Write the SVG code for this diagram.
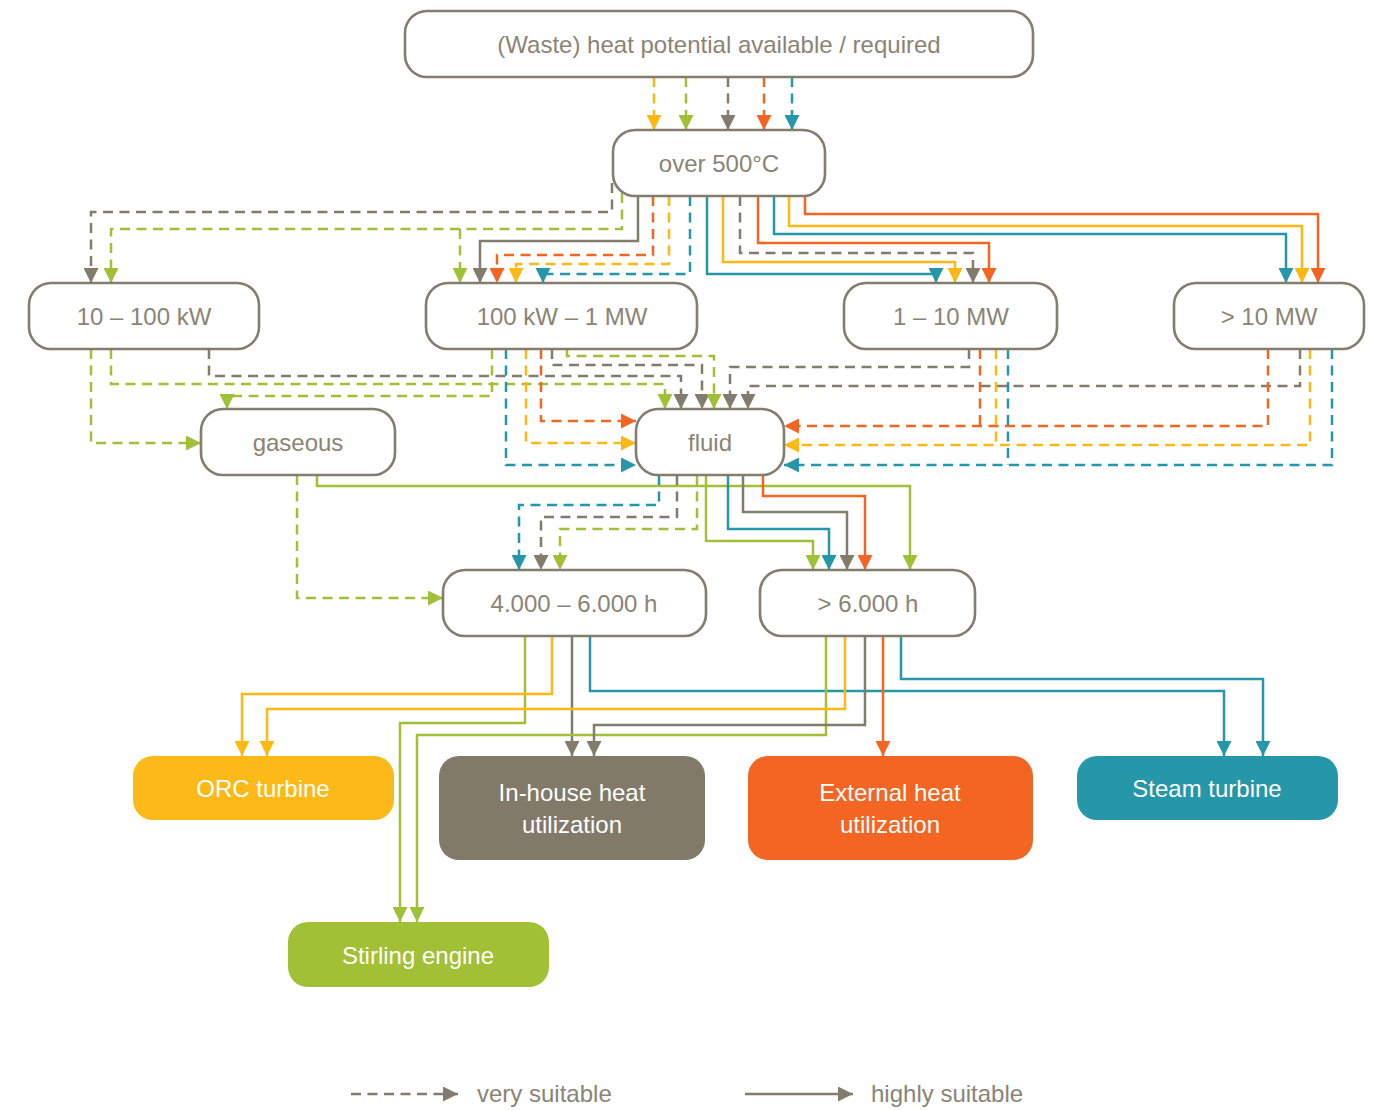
<svg xmlns="http://www.w3.org/2000/svg" width="1382" height="1110" viewBox="0 0 1382 1110">
<style>
.n rect{fill:#fff;stroke:#847D6E;stroke-width:2.6}
.t{font-family:"Liberation Sans",Arial,sans-serif;font-size:24px;fill:#8A8475;text-anchor:middle}
.w{font-family:"Liberation Sans",Arial,sans-serif;font-size:24px;fill:#fff;text-anchor:middle}
.c path{fill:none;stroke-width:2.5}
.d{stroke-dasharray:10 6.5}
.Y{stroke:#FDB913}.G{stroke:#A2C037}.K{stroke:#837C6C}.R{stroke:#F26522}.T{stroke:#2697A9}
</style>
<defs>
<marker id="mY" markerUnits="userSpaceOnUse" markerWidth="15" markerHeight="15" refX="15" refY="7.5" orient="auto"><path d="M0,0 L15,7.5 L0,15 z" fill="#FDB913"/></marker>
<marker id="mG" markerUnits="userSpaceOnUse" markerWidth="15" markerHeight="15" refX="15" refY="7.5" orient="auto"><path d="M0,0 L15,7.5 L0,15 z" fill="#A2C037"/></marker>
<marker id="mK" markerUnits="userSpaceOnUse" markerWidth="15" markerHeight="15" refX="15" refY="7.5" orient="auto"><path d="M0,0 L15,7.5 L0,15 z" fill="#837C6C"/></marker>
<marker id="mR" markerUnits="userSpaceOnUse" markerWidth="15" markerHeight="15" refX="15" refY="7.5" orient="auto"><path d="M0,0 L15,7.5 L0,15 z" fill="#F26522"/></marker>
<marker id="mT" markerUnits="userSpaceOnUse" markerWidth="15" markerHeight="15" refX="15" refY="7.5" orient="auto"><path d="M0,0 L15,7.5 L0,15 z" fill="#2697A9"/></marker>
</defs>
<rect width="1382" height="1110" fill="#fff"/>
<g id="connectors" class="c">
<path class="Y d" marker-end="url(#mY)" d="M654,77 V130"/>
<path class="G d" marker-end="url(#mG)" d="M686,77 V130"/>
<path class="K d" marker-end="url(#mK)" d="M728,77 V130"/>
<path class="R d" marker-end="url(#mR)" d="M764,77 V130"/>
<path class="T d" marker-end="url(#mT)" d="M792,77 V130"/>
<path class="K d" marker-end="url(#mK)" d="M612,183 V212 H91 V283"/>
<path class="G d" marker-end="url(#mG)" d="M622,193 V229 H111 V283"/>
<path class="G d" marker-end="url(#mG)" d="M460,229 V283"/>
<path class="K" marker-end="url(#mK)" d="M638,196 V241 H480 V283"/>
<path class="R d" marker-end="url(#mR)" d="M653,196 V255 H497 V283"/>
<path class="Y d" marker-end="url(#mY)" d="M669,196 V264 H516 V283"/>
<path class="T d" marker-end="url(#mT)" d="M690,196 V274 H543 V283"/>
<path class="T" marker-end="url(#mT)" d="M707,196 V274 H936 V283"/>
<path class="Y" marker-end="url(#mY)" d="M723,196 V262 H955 V283"/>
<path class="K d" marker-end="url(#mK)" d="M740,196 V253 H973 V283"/>
<path class="R" marker-end="url(#mR)" d="M758,196 V243 H989 V283"/>
<path class="T" marker-end="url(#mT)" d="M774,196 V234 H1286 V283"/>
<path class="Y" marker-end="url(#mY)" d="M789,196 V226 H1302 V283"/>
<path class="R" marker-end="url(#mR)" d="M805,196 V214 H1318 V283"/>
<path class="G d" marker-end="url(#mG)" d="M91,349 V443 H201"/>
<path class="G d" marker-end="url(#mG)" d="M111,349 V384 H665 V409"/>
<path class="K d" marker-end="url(#mK)" d="M209,349 V376 H681 V409"/>
<path class="G d" marker-end="url(#mG)" d="M492,349 V396 H227 V409"/>
<path class="T d" marker-end="url(#mT)" d="M506,349 V465 H636"/>
<path class="Y d" marker-end="url(#mY)" d="M526,349 V443 H636"/>
<path class="R d" marker-end="url(#mR)" d="M541,349 V421 H636"/>
<path class="K d" marker-end="url(#mK)" d="M552,349 V365 H702 V409"/>
<path class="G d" marker-end="url(#mG)" d="M567,349 V356 H714 V409"/>
<path class="K d" marker-end="url(#mK)" d="M969,349 V367 H730 V409"/>
<path class="K d" marker-end="url(#mK)" d="M1300,349 V386 H748 V409"/>
<path class="R d" marker-end="url(#mR)" d="M1268,349 V426 H784"/>
<path class="R d" d="M980,349 V426"/>
<path class="Y d" marker-end="url(#mY)" d="M1310,349 V445 H784"/>
<path class="Y d" d="M996,349 V445"/>
<path class="T d" marker-end="url(#mT)" d="M1332,349 V465 H784"/>
<path class="T d" d="M1008,349 V465"/>
<path class="G d" marker-end="url(#mG)" d="M297,475 V598 H443"/>
<path class="G" marker-end="url(#mG)" d="M317,475 V486 H910 V570"/>
<path class="T d" marker-end="url(#mT)" d="M659,475 V505 H519 V570"/>
<path class="K d" marker-end="url(#mK)" d="M677,475 V517 H541 V570"/>
<path class="G d" marker-end="url(#mG)" d="M697,475 V529 H560 V570"/>
<path class="G" marker-end="url(#mG)" d="M706,475 V541 H813 V570"/>
<path class="T" marker-end="url(#mT)" d="M728,475 V529 H829 V570"/>
<path class="K" marker-end="url(#mK)" d="M743,475 V512 H847 V570"/>
<path class="R" marker-end="url(#mR)" d="M763,475 V496 H865 V570"/>
<path class="G" marker-end="url(#mG)" d="M525,636 V723 H400 V922"/>
<path class="Y" marker-end="url(#mY)" d="M552,636 V694 H242 V756"/>
<path class="K" marker-end="url(#mK)" d="M572,636 V756"/>
<path class="T" marker-end="url(#mT)" d="M590,636 V691 H1224 V756"/>
<path class="G" marker-end="url(#mG)" d="M826,636 V735 H417 V922"/>
<path class="Y" marker-end="url(#mY)" d="M845,636 V709 H267 V756"/>
<path class="K" marker-end="url(#mK)" d="M865,636 V725 H594 V756"/>
<path class="R" marker-end="url(#mR)" d="M883,636 V756"/>
<path class="T" marker-end="url(#mT)" d="M901,636 V679 H1263 V756"/>
</g>
<g id="n-top" class="n"><rect x="405" y="11" width="628" height="66" rx="22"/><text class="t" x="719" y="53">(Waste) heat potential available / required</text></g>
<g id="n-500" class="n"><rect x="613" y="130" width="212" height="66" rx="22"/><text class="t" x="719" y="172">over 500°C</text></g>
<g id="n-10-100kw" class="n"><rect x="29" y="283" width="230" height="66" rx="22"/><text class="t" x="144" y="325">10 – 100 kW</text></g>
<g id="n-100kw-1mw" class="n"><rect x="426" y="283" width="271" height="66" rx="22"/><text class="t" x="562" y="325">100 kW – 1 MW</text></g>
<g id="n-1-10mw" class="n"><rect x="844" y="283" width="213" height="66" rx="22"/><text class="t" x="951" y="325">1 – 10 MW</text></g>
<g id="n-10mw" class="n"><rect x="1174" y="283" width="190" height="66" rx="22"/><text class="t" x="1269" y="325">&gt; 10 MW</text></g>
<g id="n-gaseous" class="n"><rect x="201" y="409" width="194" height="66" rx="22"/><text class="t" x="298" y="451">gaseous</text></g>
<g id="n-fluid" class="n"><rect x="636" y="409" width="148" height="66" rx="22"/><text class="t" x="710" y="451">fluid</text></g>
<g id="n-4000" class="n"><rect x="443" y="570" width="263" height="66" rx="22"/><text class="t" x="574" y="612">4.000 – 6.000 h</text></g>
<g id="n-6000" class="n"><rect x="760" y="570" width="215" height="66" rx="22"/><text class="t" x="868" y="612">&gt; 6.000 h</text></g>
<g id="n-orc"><rect x="133" y="756" width="261" height="64" rx="20" fill="#FCB918"/><text class="w" x="263" y="797">ORC turbine</text></g>
<g id="n-inhouse"><rect x="439" y="756" width="266" height="104" rx="20" fill="#827A69"/><text class="w" x="572" y="801">In-house heat</text><text class="w" x="572" y="833">utilization</text></g>
<g id="n-external"><rect x="748" y="756" width="285" height="104" rx="20" fill="#F26522"/><text class="w" x="890" y="801">External heat</text><text class="w" x="890" y="833">utilization</text></g>
<g id="n-steam"><rect x="1077" y="756" width="261" height="64" rx="20" fill="#2696A9"/><text class="w" x="1207" y="797">Steam turbine</text></g>
<g id="n-stirling"><rect x="288" y="922" width="261" height="65" rx="20" fill="#A2C035"/><text class="w" x="418" y="964">Stirling engine</text></g>
<g id="legend" class="c">
<path class="K d" marker-end="url(#mK)" d="M351,1094 H458"/>
<path class="K" marker-end="url(#mK)" d="M745,1094 H853"/>
<text class="t" x="477" y="1102" style="text-anchor:start">very suitable</text>
<text class="t" x="871" y="1102" style="text-anchor:start">highly suitable</text>
</g>
</svg>
